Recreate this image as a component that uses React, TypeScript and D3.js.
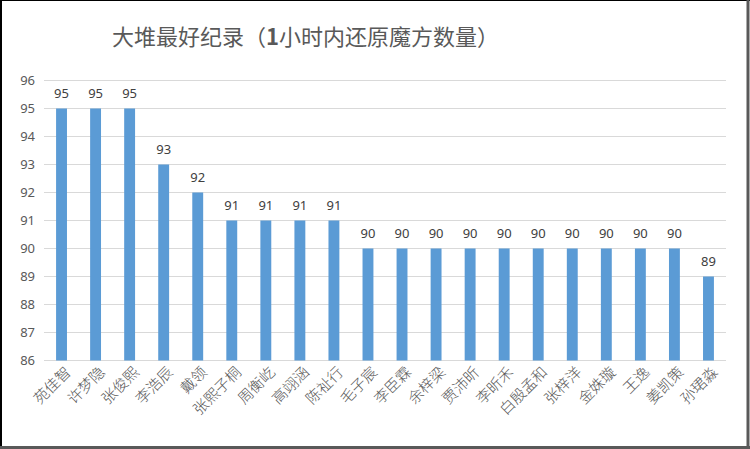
import React, { useEffect, useRef } from 'react';
import * as d3 from 'd3';

// names and scores
const names = [
  '苑佳智', '许梦隐', '张俊熙', '李浩辰', '戴领', '张熙子桐', '周衡屹', '高翊涵', '陈祉行', '毛子宸',
  '李臣霖', '余梓梁', '贾沛昕', '李昕禾', '白殷孟和', '张梓洋', '金姝璇', '王逸', '姜凯策', '孙珺淼',
];
const scores = [95, 95, 95, 93, 92, 91, 91, 91, 91, 90, 90, 90, 90, 90, 90, 90, 90, 90, 90, 89];
const yTicks = [86, 87, 88, 89, 90, 91, 92, 93, 94, 95, 96];
const titleParts = [
  { t: '大堆最好纪录（', bold: false },
  { t: '1', bold: true },
  { t: '小时内还原魔方数量）', bold: false },
];

const W = 750;
const H = 449;

export default function App() {
  const ref = useRef<SVGSVGElement>(null);

  useEffect(() => {
    const svg = d3.select(ref.current);
    svg.selectAll('*').remove();

    svg.append('rect').attr('width', W).attr('height', H).attr('fill', '#fff');

    const x = d3.scaleBand().domain(names).range([44.5, 725.5]).paddingInner(0.68).paddingOuter(0.34);
    const y = d3.scaleLinear().domain([86, 96]).range([360.5, 80.5]);

    // gridlines
    svg
      .append('g')
      .selectAll('line')
      .data(yTicks)
      .enter()
      .append('line')
      .attr('x1', 44)
      .attr('x2', 726)
      .attr('y1', (d) => y(d))
      .attr('y2', (d) => y(d))
      .attr('stroke', '#d9d9d9')
      .attr('stroke-width', 1);

    // y tick labels
    svg
      .append('g')
      .selectAll('text')
      .data(yTicks)
      .enter()
      .append('text')
      .attr('x', 35)
      .attr('y', (d) => y(d))
      .attr('dy', '0.35em')
      .attr('text-anchor', 'end')
      .attr('font-family', 'Noto Sans, sans-serif')
      .attr('font-size', 13)
      .attr('fill', '#595959')
      .text((d) => d);

    const data = names.map((n, i) => ({ name: n, score: scores[i] }));

    // bars
    svg
      .append('g')
      .selectAll('rect')
      .data(data)
      .enter()
      .append('rect')
      .attr('x', (d) => x(d.name)!)
      .attr('width', x.bandwidth())
      .attr('y', (d) => y(d.score))
      .attr('height', (d) => y(86) - y(d.score))
      .attr('fill', '#5b9bd5');

    // value labels
    svg
      .append('g')
      .selectAll('text')
      .data(data)
      .enter()
      .append('text')
      .attr('x', (d) => x(d.name)! + x.bandwidth() / 2)
      .attr('y', (d) => y(d.score) - 11)
      .attr('text-anchor', 'middle')
      .attr('font-family', 'Noto Sans, sans-serif')
      .attr('font-size', 13)
      .attr('fill', '#404040')
      .text((d) => d.score);

    // category labels, rotated
    svg
      .append('g')
      .selectAll('text')
      .data(names)
      .enter()
      .append('text')
      .attr('transform', (d) => `translate(${x(d)! + x.bandwidth() / 2 + 6},${369}) rotate(-45)`)
      .attr('text-anchor', 'end')
      .attr('dy', '0.4em')
      .attr('font-family', 'Noto Sans CJK SC, sans-serif')
      .attr('font-weight', 300)
      .attr('font-size', 15)
      .attr('fill', '#595959')
      .text((d) => d);

    // title
    svg
      .append('text')
      .attr('x', 112)
      .attr('y', 45)
      .attr('font-family', 'Noto Sans CJK SC, sans-serif')
      .attr('font-size', 22)
      .attr('fill', '#595959')
      .selectAll('tspan')
      .data(titleParts)
      .enter()
      .append('tspan')
      .attr('font-weight', (d) => (d.bold ? 700 : 400))
      .text((d) => d.t);

    // frame
    svg.append('line').attr('x1', 1).attr('x2', 1).attr('y1', 0).attr('y2', H).attr('stroke', '#000').attr('stroke-width', 2);
    svg.append('line').attr('x1', 0).attr('x2', W).attr('y1', 0.5).attr('y2', 0.5).attr('stroke', '#000').attr('stroke-width', 1);
    svg.append('line').attr('x1', 748).attr('x2', 748).attr('y1', 0).attr('y2', H).attr('stroke', '#595959').attr('stroke-width', 3);
    svg.append('line').attr('x1', 0).attr('x2', W).attr('y1', 447.5).attr('y2', 447.5).attr('stroke', '#595959').attr('stroke-width', 3);
  }, []);

  return (
    <svg
      ref={ref}
      width={W}
      height={H}
      style={{ position: 'fixed', left: 0, top: 0, display: 'block' }}
    />
  );
}
